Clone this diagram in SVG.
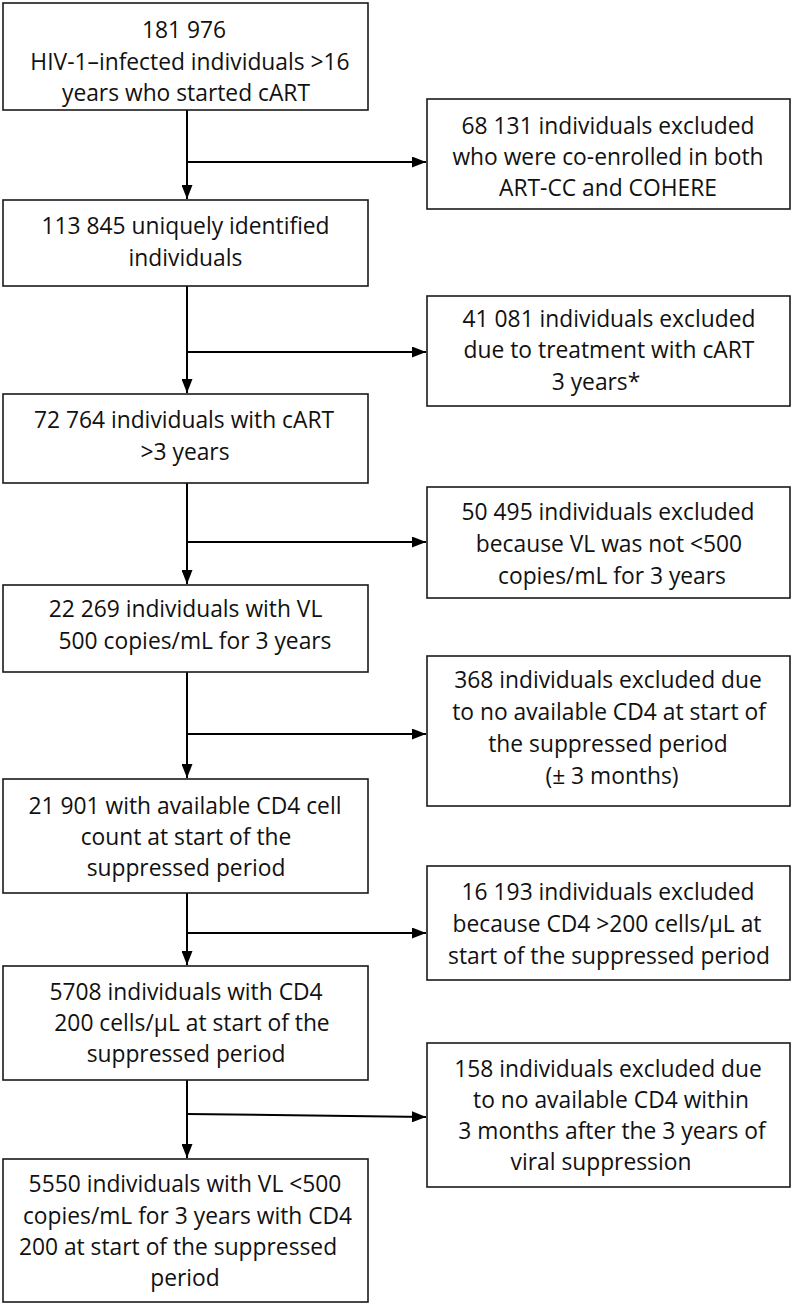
<svg xmlns="http://www.w3.org/2000/svg" width="793" height="1306" viewBox="0 0 793 1306">
<style>
.box{fill:#fff;stroke:#1a1a1a;stroke-width:1.6}
.t{font-family:"Open Sans","Liberation Sans",sans-serif;font-size:22.8px;fill:#111;text-anchor:middle}
.c{fill:none;stroke:#000;stroke-width:2}
</style>
<defs>
<marker id="ah" markerWidth="14" markerHeight="11" refX="14" refY="5.5" orient="auto" markerUnits="userSpaceOnUse">
<path d="M0,0 L14,5.5 L0,11 Z" fill="#000"/>
</marker>
</defs>
<rect width="793" height="1306" fill="#fff"/>
<g id="connectors">
<path class="c" d="M187,110 V199" marker-end="url(#ah)"/>
<path class="c" d="M187,162 H426" marker-end="url(#ah)"/>
<path class="c" d="M187,286 V393" marker-end="url(#ah)"/>
<path class="c" d="M187,352 H426" marker-end="url(#ah)"/>
<path class="c" d="M187,483 V584" marker-end="url(#ah)"/>
<path class="c" d="M187,542 H426" marker-end="url(#ah)"/>
<path class="c" d="M187,672 V778" marker-end="url(#ah)"/>
<path class="c" d="M187,734 H426" marker-end="url(#ah)"/>
<path class="c" d="M187,893 V965" marker-end="url(#ah)"/>
<path class="c" d="M187,933 H426" marker-end="url(#ah)"/>
<path class="c" d="M187,1080 V1158" marker-end="url(#ah)"/>
<path class="c" d="M187,1114 L426,1117" marker-end="url(#ah)"/>
</g>
<g id="n1"><rect class="box" x="3" y="3" width="365" height="107"/>
<text class="t" x="184" y="38">181 976</text>
<text class="t" x="190" y="69.5">HIV-1–infected individuals &gt;16</text>
<text class="t" x="186" y="101">years who started cART</text></g>
<g id="n2"><rect class="box" x="3" y="200" width="365" height="86"/>
<text class="t" x="185.5" y="234">113 845 uniquely identified</text>
<text class="t" x="185.5" y="266">individuals</text></g>
<g id="n3"><rect class="box" x="3" y="394" width="365" height="89"/>
<text class="t" x="184" y="428">72 764 individuals with cART</text>
<text class="t" x="185" y="460">&gt;3 years</text></g>
<g id="n4"><rect class="box" x="3" y="585" width="365" height="87"/>
<text class="t" x="185.5" y="617">22 269 individuals with VL</text>
<text class="t" x="195" y="649">500 copies/mL for 3 years</text></g>
<g id="n5"><rect class="box" x="3" y="779" width="365" height="114"/>
<text class="t" x="185" y="814">21 901 with available CD4 cell</text>
<text class="t" x="186" y="845">count at start of the</text>
<text class="t" x="186" y="876">suppressed period</text></g>
<g id="n6"><rect class="box" x="3" y="966" width="365" height="114"/>
<text class="t" x="186" y="1000">5708 individuals with CD4</text>
<text class="t" x="192" y="1031">200 cells/µL at start of the</text>
<text class="t" x="186" y="1062">suppressed period</text></g>
<g id="n7"><rect class="box" x="3" y="1159" width="365" height="143"/>
<text class="t" x="185" y="1192">5550 individuals with VL &lt;500</text>
<text class="t" x="187.5" y="1224">copies/mL for 3 years with CD4</text>
<text class="t" x="178" y="1255">200 at start of the suppressed</text>
<text class="t" x="185" y="1286">period</text></g>
<g id="r1"><rect class="box" x="427" y="99" width="363" height="110"/>
<text class="t" x="608" y="134">68 131 individuals excluded</text>
<text class="t" x="608" y="165">who were co-enrolled in both</text>
<text class="t" x="608" y="196">ART-CC and COHERE</text></g>
<g id="r2"><rect class="box" x="427" y="296" width="363" height="110"/>
<text class="t" x="609" y="327">41 081 individuals excluded</text>
<text class="t" x="609" y="358">due to treatment with cART</text>
<text class="t" x="596" y="390">3 years*</text></g>
<g id="r3"><rect class="box" x="427" y="487" width="363" height="111"/>
<text class="t" x="608" y="520">50 495 individuals excluded</text>
<text class="t" x="609" y="552">because VL was not &lt;500</text>
<text class="t" x="612" y="584">copies/mL for 3 years</text></g>
<g id="r4"><rect class="box" x="427" y="656" width="363" height="150"/>
<text class="t" x="608" y="688">368 individuals excluded due</text>
<text class="t" x="609" y="720">to no available CD4 at start of</text>
<text class="t" x="608" y="752">the suppressed period</text>
<text class="t" x="612" y="784">(± 3 months)</text></g>
<g id="r5"><rect class="box" x="427" y="866" width="363" height="114"/>
<text class="t" x="608" y="900">16 193 individuals excluded</text>
<text class="t" x="607" y="932">because CD4 &gt;200 cells/µL at</text>
<text class="t" x="609" y="964">start of the suppressed period</text></g>
<g id="r6"><rect class="box" x="427" y="1043" width="363" height="144"/>
<text class="t" x="608" y="1077">158 individuals excluded due</text>
<text class="t" x="611" y="1108">to no available CD4 within</text>
<text class="t" x="612" y="1139">3 months after the 3 years of</text>
<text class="t" x="601" y="1170">viral suppression</text></g>
</svg>
